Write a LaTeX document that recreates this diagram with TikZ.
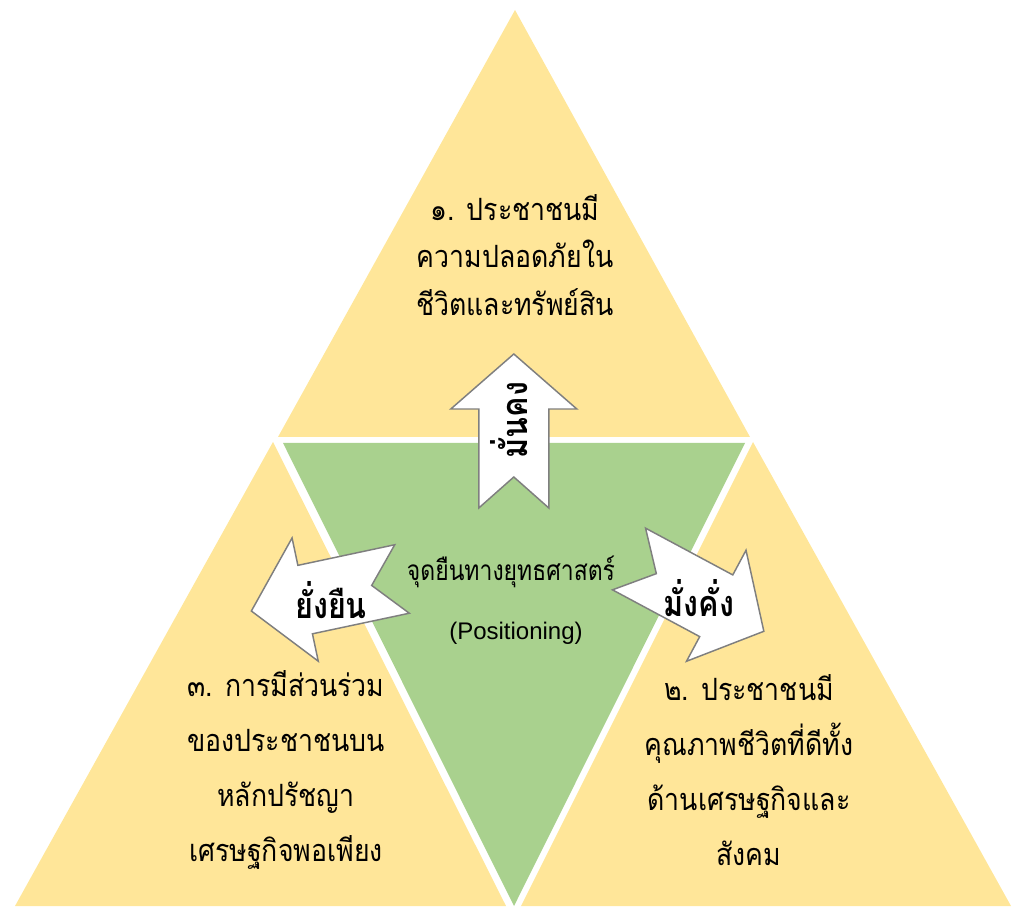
\documentclass[tikz,border=0pt]{standalone}
\usepackage{fontspec}
\setsansfont{Liberation Sans}
\newfontfamily\thaifont[Script=Thai]{Loma}
\definecolor{triyellow}{HTML}{FFE699}
\definecolor{midgreen}{HTML}{A9D18E}
\definecolor{arrowgray}{HTML}{7F7F7F}
\newcommand{\narrowed}[2]{\scalebox{#1}[1]{#2}}

\begin{document}
\begin{tikzpicture}[x=0.75pt,y=0.75pt,
	goal/.style={font=\thaifont\fontsize{23}{35.6}\selectfont, align=center, inner sep=0pt},
	goalb/.style={font=\thaifont\fontsize{23}{41.2}\selectfont, align=center, inner sep=0pt},
	arrowline/.style={draw=arrowgray, line width=1.1pt, fill=white},
	arrowlabel/.style={font=\thaifont\bfseries\fontsize{27}{30}\selectfont, inner sep=0pt}]
	\useasboundingbox (0,0) rectangle (1013,906);
	% Draw the three yellow triangles
	\fill[triyellow] (515,896) -- (278,469) -- (750,469) -- cycle;
	\fill[triyellow] (273,464) -- (15,0) -- (506,0) -- cycle;
	\fill[triyellow] (753,464) -- (521,0) -- (1011,0) -- cycle;
	% Draw the green triangle in the middle
	\fill[midgreen] (283,463) -- (745,463) -- (514,0) -- cycle;
	
	% Draw the block arrows
	\draw[arrowline, shift={(513.8,398)}, rotate=90] (0,35) -- (99,35) -- (99,63) -- (154,0) -- (99,-63) -- (99,-35) -- (0,-35) -- (31,0) -- cycle;
	\draw[arrowline, shift={(402,327)}, rotate=192] (0,35) -- (99,35) -- (99,63) -- (154,0) -- (99,-63) -- (99,-35) -- (0,-35) -- (31,0) -- cycle;
	\draw[arrowline, shift={(629,347)}, rotate=-28.2] (0,35) -- (99,35) -- (99,63) -- (153,0) -- (99,-63) -- (99,-35) -- (0,-35) -- (31,0) -- cycle;
	
	% Texts
	\node[goal] (safety) at (515,651) {\narrowed{0.87}{๑. ประชาชนมี}\\\narrowed{0.87}{ความปลอดภัยใน}\\\narrowed{0.87}{ชีวิตและทรัพย์สิน}};
	\node[goalb] (participation) at (286,136) {\narrowed{0.87}{๓. การมีส่วนร่วม}\\\narrowed{0.87}{ของประชาชนบน}\\\narrowed{0.87}{หลักปรัชญา}\\\narrowed{0.87}{เศรษฐกิจพอเพียง}};
	\node[goalb] (quality) at (749,136) {\narrowed{0.87}{๒. ประชาชนมี}\\\narrowed{0.87}{คุณภาพชีวิตที่ดีทั้ง}\\\narrowed{0.87}{ด้านเศรษฐกิจและ}\\\narrowed{0.87}{สังคม}};
	\node[font=\thaifont\fontsize{21}{24}\selectfont, anchor=base] (position) at (511,325) {\narrowed{0.82}{จุดยืนทางยุทธศาสตร์}};
	\node[font=\sffamily\fontsize{18}{22}\selectfont, anchor=base] (positioning) at (516,266) {(Positioning)};
	\node[arrowlabel, rotate=90] (stable) at (509,486) {\narrowed{0.85}{มั่นคง}};
	\node[arrowlabel] (sustain) at (331,306) {\narrowed{0.85}{ยั่งยืน}};
	\node[arrowlabel] (wealth) at (699,308) {\narrowed{0.85}{มั่งคั่ง}};
\end{tikzpicture}
\end{document}
